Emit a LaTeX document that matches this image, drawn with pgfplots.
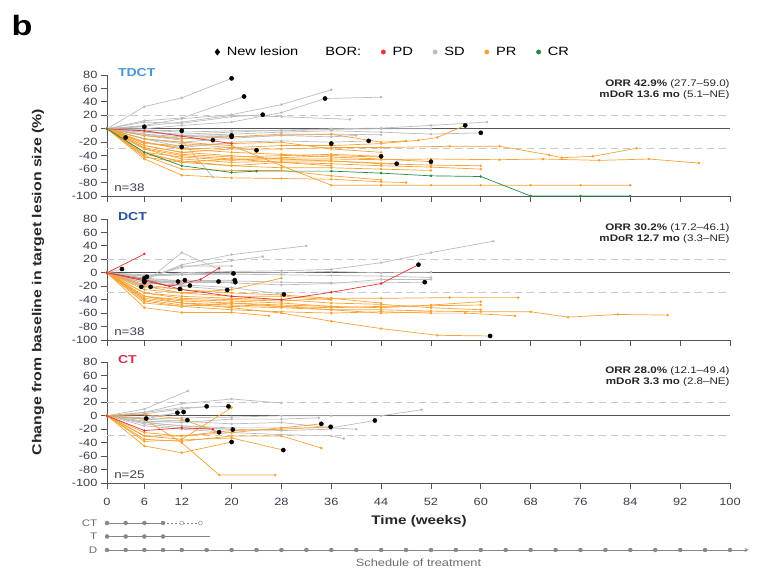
\documentclass[border=0pt]{standalone}
\usepackage{fontspec}
\setmainfont[FakeStretch=1.22]{Liberation Sans}
\usepackage{pgfplots}
\pgfplotsset{compat=1.18}

\definecolor{sdc}{RGB}{188,188,188}
\definecolor{prc}{RGB}{247,162,52}
\definecolor{pdc}{RGB}{232,52,52}
\definecolor{crc}{RGB}{34,140,70}
\definecolor{axc}{RGB}{85,85,85}
\definecolor{tkc}{RGB}{60,60,75}
\definecolor{dsh}{RGB}{200,200,200}
\definecolor{schc}{RGB}{135,135,135}
\definecolor{tdctc}{RGB}{70,150,215}
\definecolor{dctc}{RGB}{40,80,160}
\definecolor{ctc}{RGB}{210,50,80}

\pgfplotsset{
  sp/.style={line width=0.7pt, mark=*, mark size=0.9pt, forget plot},
  sd/.style={sp, color=sdc},
  pr/.style={sp, color=prc},
  pd/.style={sp, color=pdc},
  cr/.style={sp, color=crc},
  nl/.style={only marks, mark=*, mark size=2.1pt, color=black, forget plot},
  zero/.style={no marks, color=axc, line width=1.1pt, forget plot},
  dl/.style={no marks, color=dsh, line width=1.1pt, dash pattern=on 7pt off 5pt, forget plot},
  panel/.style={
    scale only axis, width=623pt, height=121pt,
    xmin=0, xmax=100, ymin=-100, ymax=80,
    axis x line=bottom, axis y line=left,
    axis line style={-, draw=axc, line width=0.9pt},
    xtick={0,6,12,20,28,36,44,52,60,68,76,84,92,100},
    ytick={-100,-80,-60,-40,-20,0,20,40,60,80},
    tick align=outside, major tick length=6pt,
    tick style={axc, line width=0.9pt},
    ticklabel style={font=\fontsize{10.5}{12}\selectfont, text=tkc},
    xticklabel style={yshift=-6pt},
    /pgf/number format/assume math mode=true,
    clip=false,
  },
}

\begin{document}
\begin{tikzpicture}
\path[use as bounding box] (0,0) rectangle (758pt,570pt);

% ---------------- TDCT ----------------
\begin{axis}[panel, at={(107pt,374pt)}, anchor=south west, xticklabels={},
  legend style={at={(0.459,1.19)}, anchor=center, draw=none, fill=none,
    font=\fontsize{12}{14}\selectfont, legend columns=-1,
    /tikz/every odd column/.append style={column sep=5pt},
    /tikz/every even column/.append style={column sep=18pt}}]
\addlegendimage{only marks, mark=diamond*, mark size=3.2pt, black}\addlegendentry{New lesion}
\addlegendimage{empty legend}\addlegendentry{BOR:}
\addlegendimage{only marks, mark=*, mark size=2.2pt, pdc}\addlegendentry{PD}
\addlegendimage{only marks, mark=*, mark size=2.2pt, sdc}\addlegendentry{SD}
\addlegendimage{only marks, mark=*, mark size=2.2pt, prc}\addlegendentry{PR}
\addlegendimage{only marks, mark=*, mark size=2.2pt, crc}\addlegendentry{CR}

\addplot[dl] coordinates {(0,20)(100,20)};
\addplot[dl] coordinates {(0,-30)(100,-30)};
\addplot[zero] coordinates {(0,0)(100,0)};

\addplot[sd] coordinates {(0,0)(6,33)(12,46)(20,75)};
\addplot[sd] coordinates {(0,0)(6,12)(12,16)(22,48)};
\addplot[sd] coordinates {(0,0)(6,5)(12,15)(20,21)(28,36)(36,58)};
\addplot[sd] coordinates {(0,0)(6,0)(12,5)(20,10)(28,24)(35,45)(44,47)};
\addplot[sd] coordinates {(0,0)(6,10)(12,8)(20,18)(25,21)};
\addplot[sd] coordinates {(0,0)(6,4)(12,10)(20,20)(28,18)(39,14)};
\addplot[sd] coordinates {(0,0)(6,3)};
\addplot[sd] coordinates {(0,0)(6,-2)(12,-3)};
\addplot[sd] coordinates {(0,0)(3,-13)};
\addplot[sd] coordinates {(0,0)(6,-10)(12,-17)(17,-72)};
\addplot[sd] coordinates {(0,0)(6,-5)(12,-8)(20,-5)(28,-2)(36,0)(44,1)(52,5)(61,10)};
\addplot[sd] coordinates {(0,0)(6,-3)(12,-10)(20,-8)(28,-5)(36,-3)(44,-5)(52,-8)(60,-6)};
\addplot[sd] coordinates {(0,0)(6,-8)(12,-15)(20,-12)(28,-10)(36,-8)(44,-9)};
\addplot[sd] coordinates {(0,0)(6,-2)(12,-5)(20,-3)(28,-3)(36,-1)(44,0)(52,0)};
\addplot[sd] coordinates {(0,0)(6,-15)(12,-20)(20,-14)(28,-10)(36,-12)(40,-10)};
\addplot[sd] coordinates {(0,0)(6,-15)(12,-27)};
\addplot[sd] coordinates {(0,0)(6,-5)(12,-10)(20,-12)};
\addplot[sd] coordinates {(0,0)(6,-8)(12,-12)(20,-10)};
\addplot[sd] coordinates {(0,0)(6,-10)(12,-14)(17,-17)};
\addplot[sd] coordinates {(0,0)(6,-15)(12,-22)(20,-28)(24,-32)};
\addplot[sd] coordinates {(0,0)(6,-20)(12,-28)(20,-20)(28,-18)(36,-20)(42,-18)};

\addplot[pr] coordinates {(0,0)(6,-20)(12,-30)(20,-28)(28,-25)(36,-25)(44,-22)(50,-17)(53,-13)(57.5,5)};
\addplot[pr] coordinates {(0,0)(6,-25)(12,-35)(20,-30)(28,-30)(36,-28)(44,-28)(55,-26)(63,-26)(71,-39)(73,-43)(78,-41)(85,-29)};
\addplot[pr] coordinates {(0,0)(6,-30)(12,-40)(20,-45)(28,-45)(36,-45)(44,-46)(52,-45)(63,-46)(70,-45)(79,-47)(87,-45)(95,-51)};
\addplot[pr] coordinates {(0,0)(6,-15)(12,-20)(20,-25)(28,-55)(36,-84)(44,-84)(52,-84)(60,-84)(68,-84)(76,-84)(84,-84)};
\addplot[pr] coordinates {(0,0)(6,-45)(12,-69)(20,-73)(28,-74)(36,-75)(44,-79)(48,-80)};
\addplot[pr] coordinates {(0,0)(6,-40)(12,-60)(20,-62)(28,-62)(36,-70)(44,-76)};
\addplot[pr] coordinates {(0,0)(6,-35)(12,-50)(20,-55)(28,-50)(36,-52)(44,-55)(52,-57)(60,-60)};
\addplot[pr] coordinates {(0,0)(6,-30)(12,-45)(20,-50)(28,-48)(36,-48)(44,-52)(52,-54)(60,-55)};
\addplot[pr] coordinates {(0,0)(6,-28)(12,-38)(20,-42)(28,-40)(36,-38)(44,-41)};
\addplot[pr] coordinates {(0,0)(6,-25)(12,-35)(20,-40)(28,-45)(36,-48)(46.5,-52)};
\addplot[pr] coordinates {(0,0)(6,-20)(12,-30)(20,-35)(28,-38)(36,-42)(44,-45)(52,-49)};
\addplot[pr] coordinates {(0,0)(6,-35)(12,-42)(20,-47)(28,-43)(36,-40)(44,-42)};
\addplot[pr] coordinates {(0,0)(6,-38)(12,-48)(20,-55)(28,-58)(36,-58)(44,-60)(52,-62)};
\addplot[pr] coordinates {(0,0)(6,-10)(12,-15)(20,-12)(28,-8)(36,-8)(44,-20)(48,-18)};
\addplot[pr] coordinates {(0,0)(6,-42)(12,-50)(20,-45)(28,-50)(36,-55)};
\addplot[pr] coordinates {(0,0)(6,-22)(12,-25)(20,-22)(28,-20)(36,-30)(44,-35)};

\addplot[pd] coordinates {(0,0)(6,-3)(12,-11)(20,-22)};
\addplot[cr] coordinates {(0,0)(6,-35)(12,-55)(20,-65)(24,-63)(36,-63)(44,-66)(52,-70)(60,-71)(68,-100)(76,-100)(84,-100)};

\addplot[nl] coordinates {(20,75)(22,48)(35,45)(25,21)(6,3)(12,-3)(3,-13)(12,-27)(17,-17)
  (20,-10)(20,-12)(24,-32)(36,-22)(42,-18)(44,-41)(46.5,-52)(52,-49)(57.5,5)(60,-6)};

\node[anchor=west, font=\bfseries\fontsize{11.5}{13}\selectfont, text=tdctc] at (rel axis cs:0.012,1.02) {TDCT};
\node[anchor=east, align=right, font=\fontsize{9.5}{11.5}\selectfont, text=black!85] at (rel axis cs:1.005,0.88)
  {\textbf{ORR 42.9\%} (27.7–59.0)\\\textbf{mDoR 13.6 mo} (5.1–NE)};
\node[anchor=west, font=\fontsize{11}{12}\selectfont, text=tkc] at (rel axis cs:0.006,0.066) {n=38};
\end{axis}

% ---------------- DCT ----------------
\begin{axis}[panel, at={(107pt,230pt)}, anchor=south west, xticklabels={}]
\addplot[dl] coordinates {(0,20)(100,20)};
\addplot[dl] coordinates {(0,-30)(100,-30)};
\addplot[zero] coordinates {(0,0)(100,0)};

\addplot[sd] coordinates {(0,0)(6,-15)(12,30)(18,5)};
\addplot[sd] coordinates {(0,0)(6,-10)(12,12)(20,27)(32,40)};
\addplot[sd] coordinates {(0,0)(6,-5)(12,0)(20,2)(28,3)(36,5)(44,15)(52,30)(62,47)};
\addplot[sd] coordinates {(0,0)(6,-8)(12,8)(20,18)(25,24)};
\addplot[sd] coordinates {(0,0)(6,-5)(12,-3)(20,-2)(28,-3)(36,-4)(44,-5)(52,-7)};
\addplot[sd] coordinates {(0,0)(6,-12)(12,-15)(20,-12)(28,-14)(36,-15)(44,-15)(51,-14)};
\addplot[sd] coordinates {(0,0)(6,-10)(12,10)(20,10)};
\addplot[sd] coordinates {(0,0)(2.4,5.6)};
\addplot[sd] coordinates {(0,0)(6,-8)};
\addplot[sd] coordinates {(0,0)(6,-12)};
\addplot[sd] coordinates {(0,0)(6,-15)(11.4,-13)};
\addplot[sd] coordinates {(0,0)(6,-18)(12.5,-11)};
\addplot[sd] coordinates {(0,0)(6,-21)(11.7,-24)};
\addplot[sd] coordinates {(0,0)(5.5,-21)};
\addplot[sd] coordinates {(0,0)(6,-15)(13.3,-19)};
\addplot[sd] coordinates {(0,0)(6,-10)(12,-15)(17.9,-13)};
\addplot[sd] coordinates {(0,0)(6,-15)(12,-20)(19.3,-25.6)};
\addplot[sd] coordinates {(0,0)(6,-5)(12,-3)(20.3,-1)};
\addplot[sd] coordinates {(0,0)(6,-10)(12,-12)(20.5,-11)};
\addplot[sd] coordinates {(0,0)(6,-12)(12,-15)(20.6,-14)};
\addplot[sd] coordinates {(0,0)(6,-10)(12,-18)(20,-22)(28.4,-32)};
\addplot[sd] coordinates {(0,0)(6,-3)(12,-2)(20,0)(28,0)(36,2)(44,0)(52,1)};
\addplot[sd] coordinates {(0,0)(6,-8)(12,-12)(20,-15)(28,-18)(36,-16)(44,-10)(52,-10)};

\addplot[pr] coordinates {(0,0)(6,-35)(12,-45)(20,-52)(28,-60)(36,-72)(44,-83)(53,-93)(61.5,-94)};
\addplot[pr] coordinates {(0,0)(6,-20)(12,-30)(20,-25)(28,-8)};
\addplot[pr] coordinates {(0,0)(6,-30)(12,-38)(20,-40)(28,-42)(36,-38)(44,-38)(55,-37)(66,-37)};
\addplot[pr] coordinates {(0,0)(6,-35)(12,-42)(20,-45)(28,-48)(36,-50)(44,-52)(52,-48)(60,-43)};
\addplot[pr] coordinates {(0,0)(6,-38)(12,-45)(20,-48)(28,-50)(36,-52)(44,-50)(52,-49)(60,-48)};
\addplot[pr] coordinates {(0,0)(6,-40)(12,-48)(20,-50)(28,-52)(36,-55)(44,-55)(52,-57)(60,-58)(68,-58)(74,-66)(82,-62)(90,-63)};
\addplot[pr] coordinates {(0,0)(6,-42)(12,-50)(20,-55)(28,-58)(36,-60)(44,-58)(52,-60)(57.5,-60)(65.5,-64)};
\addplot[pr] coordinates {(0,0)(6,-52)(12,-59)(20,-59)(26,-64)};
\addplot[pr] coordinates {(0,0)(6,-30)(12,-35)(20,-38)(28,-40)(36,-45)(44,-47)(52,-52)(60,-55)};
\addplot[pr] coordinates {(0,0)(6,-25)(12,-30)(20,-35)(28,-35)(36,-40)};
\addplot[pr] coordinates {(0,0)(6,-45)(12,-50)(20,-45)(28,-50)(36,-55)(44,-60)(52,-58)};
\addplot[pr] coordinates {(0,0)(6,-35)(12,-40)(20,-42)(28,-45)(36,-50)};
\addplot[pr] coordinates {(0,0)(6,-18)(12,-25)(20,-30)(28,-33)(36,-38)(44,-45)};

\addplot[pd] coordinates {(0,0)(6,28)};
\addplot[pd] coordinates {(0,0)(6,-10)(12,-25)(20,-35)(28,-40)(36,-29)(44,-16)(50,12)};
\addplot[pd] coordinates {(0,0)(6,-12)(10,-20)(15,-10)(18,7)};

\addplot[nl] coordinates {(2.4,5.6)(6,-8)(6,-12)(6.4,-6)(6,-14)(7,-21)(5.5,-21)(11.4,-13)(12.5,-11)
  (11.7,-24)(13.3,-19)(17.9,-13)(19.3,-25.6)(20.3,-1)(20.5,-11)(20.6,-14)(28.4,-32)(50,12)(51,-14)(61.5,-94)};

\node[anchor=west, font=\bfseries\fontsize{11.5}{13}\selectfont, text=dctc] at (rel axis cs:0.012,1.02) {DCT};
\node[anchor=east, align=right, font=\fontsize{9.5}{11.5}\selectfont, text=black!85] at (rel axis cs:1.005,0.88)
  {\textbf{ORR 30.2\%} (17.2–46.1)\\\textbf{mDoR 12.7 mo} (3.3–NE)};
\node[anchor=west, font=\fontsize{11}{12}\selectfont, text=tkc] at (rel axis cs:0.006,0.066) {n=38};
\end{axis}

% ---------------- CT ----------------
\begin{axis}[panel, at={(107pt,87pt)}, anchor=south west]
\addplot[dl] coordinates {(0,20)(100,20)};
\addplot[dl] coordinates {(0,-30)(100,-30)};
\addplot[zero] coordinates {(0,0)(100,0)};

\addplot[sd] coordinates {(0,0)(6,10)(13,37)};
\addplot[sd] coordinates {(0,0)(6,5)(12,18)(20,25)(28,19)};
\addplot[sd] coordinates {(0,0)(6,3)(12,10)(16,14)};
\addplot[sd] coordinates {(0,0)(6,5)(12,12)(19.5,14)};
\addplot[sd] coordinates {(0,0)(6,-5)(11.3,4.5)};
\addplot[sd] coordinates {(0,0)(6,-3)(12.3,5.6)};
\addplot[sd] coordinates {(0,0)(6,-4)};
\addplot[sd] coordinates {(0,0)(6,-10)(12.9,-6.5)};
\addplot[sd] coordinates {(0,0)(6,-5)(12,-3)(20,-2)(28,0)(36,0)(44,0)(50.5,9)};
\addplot[sd] coordinates {(0,0)(6,-15)(12,-20)(20,-25)(28,-28)(36,-30)(38,-34)};
\addplot[sd] coordinates {(0,0)(6,-10)(12,-15)(20,-18)(28,-18)(36,-18)(43,-7)};
\addplot[sd] coordinates {(0,0)(6,-12)(12,-18)(20,-20)(28,-22)(36,-20)};
\addplot[sd] coordinates {(0,0)(6,-8)(12,-10)(20,-5)(28,-5)(34,-3)};
\addplot[sd] coordinates {(0,0)(6,-10)(12,-15)(20,-20.5)};
\addplot[sd] coordinates {(0,0)(6,-5)(12,-8)(20,-12)(28,-10)(36,-18)(40,-20)};

\addplot[pr] coordinates {(0,0)(6,-5)(12,-40)(18,-88)(27,-88)};
\addplot[pr] coordinates {(0,0)(6,-30)(12,-35)(20,12)};
\addplot[pr] coordinates {(0,0)(6,-45)(12,-55)(20,-39)};
\addplot[pr] coordinates {(0,0)(6,-30)(12,-30)(20,-25)(28,-18)(34.4,-12)};
\addplot[pr] coordinates {(0,0)(6,-35)(12,-38)(20,-30)(28,-30)(34.4,-48)};
\addplot[pr] coordinates {(0,0)(6,-38)(12,-36)(20,-33)(28.3,-51)};
\addplot[pr] coordinates {(0,0)(6,2)(12,-5)(18,-24.5)};
\addplot[pr] coordinates {(0,0)(6,-25)(12,-30)(20,-22)(28,-20)(35.9,-16.4)};

\addplot[pd] coordinates {(0,0)(6,-22)(12,-18)(17,-20)};

\addplot[nl] coordinates {(6.3,-4)(11.3,4.5)(12.3,5.6)(12.9,-6.5)(16,14)(19.5,14)(18,-24.5)
  (20.2,-20.5)(20,-39)(28.3,-51)(34.4,-12)(35.9,-16.4)(43,-7)};

\node[anchor=west, font=\bfseries\fontsize{11.5}{13}\selectfont, text=ctc] at (rel axis cs:0.012,1.02) {CT};
\node[anchor=east, align=right, font=\fontsize{9.5}{11.5}\selectfont, text=black!85] at (rel axis cs:1.005,0.88)
  {\textbf{ORR 28.0\%} (12.1–49.4)\\\textbf{mDoR 3.3 mo} (2.8–NE)};
\node[anchor=west, font=\fontsize{11}{12}\selectfont, text=tkc] at (rel axis cs:0.006,0.066) {n=25};
\end{axis}

% ---------------- schedule ----------------
\begin{axis}[scale only axis, width=623pt, height=54pt, at={(107pt,6.5pt)}, anchor=south west,
  xmin=0, xmax=100, ymin=0, ymax=4, hide axis, clip=false]
\addplot[schc, line width=0.9pt, no marks] coordinates {(0,3)(9,3)};
\addplot[schc, line width=0.9pt, no marks, dash pattern=on 2pt off 2pt] coordinates {(9,3)(15,3)};
\addplot[schc, only marks, mark=*, mark size=2pt] coordinates {(0,3)(3,3)(6,3)(9,3)};
\addplot[schc, only marks, mark=*, mark size=2pt, mark options={fill=white}] coordinates {(12,3)(15,3)};
\addplot[schc, line width=0.9pt, no marks] coordinates {(0,2)(16.5,2)};
\addplot[schc, only marks, mark=*, mark size=2pt] coordinates {(0,2)(3,2)(6,2)(9,2)};
\addplot[schc, line width=0.9pt, no marks, -stealth] coordinates {(0,1)(103,1)};
\addplot[schc, only marks, mark=*, mark size=2pt] coordinates {(0,1)(3,1)(6,1)(9,1)(12,1)(16,1)(20,1)(24,1)
  (28,1)(32,1)(36,1)(40,1)(44,1)(48,1)(52,1)(56,1)(60,1)(64,1)(68,1)(72,1)(76,1)(80,1)(84,1)(88,1)(92,1)(96,1)(100,1)};
\node[anchor=east, font=\fontsize{9.5}{10}\selectfont, text=schc!80!black] at (axis cs:-1,3) {CT};
\node[anchor=east, font=\fontsize{9.5}{10}\selectfont, text=schc!80!black] at (axis cs:-1,2) {T};
\node[anchor=east, font=\fontsize{9.5}{10}\selectfont, text=schc!80!black] at (axis cs:-1,1) {D};
\node[font=\fontsize{10.5}{11}\selectfont, text=schc!80!black] at (axis cs:50,0.05) {Schedule of treatment};
\end{axis}

\node[font=\bfseries\fontsize{12.5}{14}\selectfont, text=black!85] at (419pt,49pt) {Time (weeks)};
\node[rotate=90, font=\bfseries\fontsize{13}{14}\selectfont, text=black!85] at (38pt,288pt)
  {Change from baseline in target lesion size (\%)};
\node[anchor=north west, font=\bfseries\fontsize{28}{30}\selectfont] at (8pt,558pt) {b};
\end{tikzpicture}
\end{document}
